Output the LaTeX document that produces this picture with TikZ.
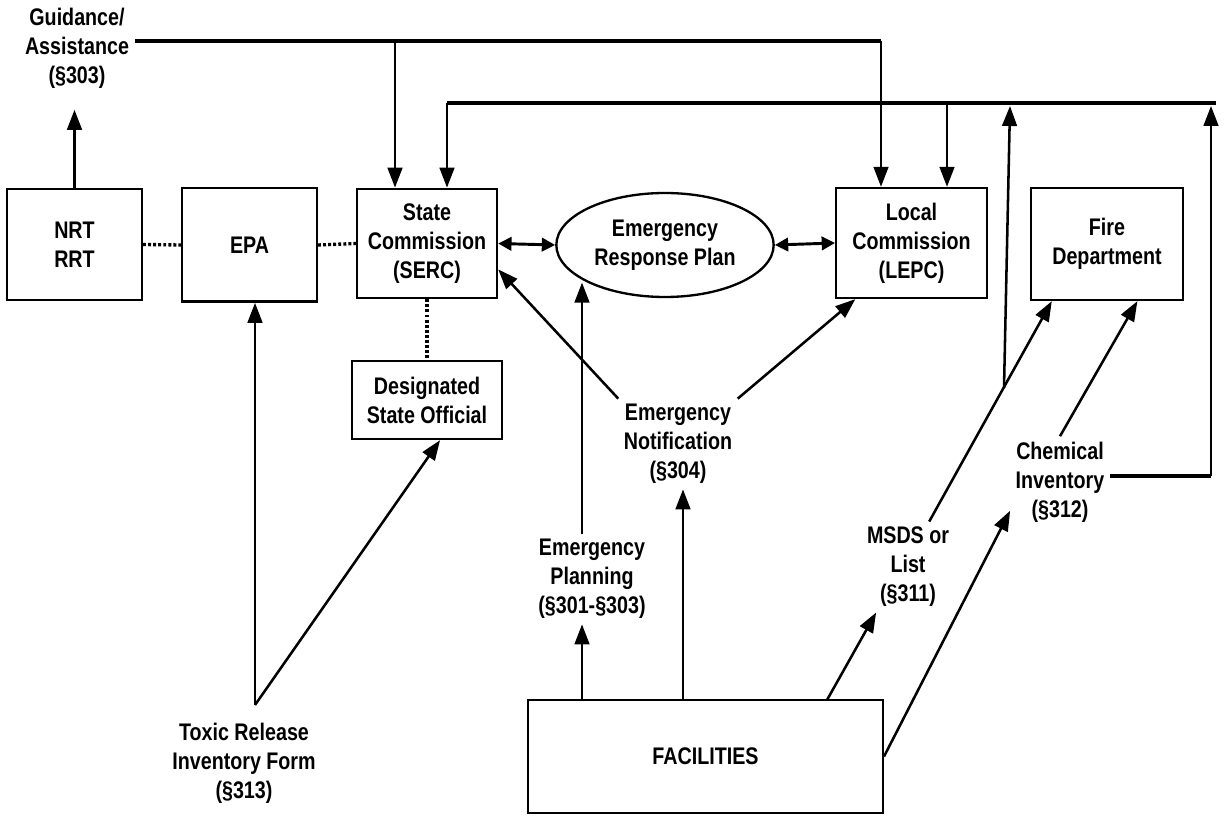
\documentclass[tikz,border=0pt]{standalone}
\usepackage{fontspec}
\setmainfont{Liberation Sans}[FakeStretch=0.82]
\usetikzlibrary{arrows.meta}
\usetikzlibrary{shapes}

\newcommand{\lblfont}{\fontsize{18pt}{21.75pt}\selectfont\bfseries}
\tikzset{
  box/.style={draw, line width=1.75pt, inner sep=0pt, align=center, font=\lblfont},
  lbl/.style={align=center, font=\lblfont, inner sep=4pt},
  arr/.style={line width=1.9pt, -{Triangle[length=15pt,width=11pt]}},
  dbl/.style={line width=2.2pt, {Triangle[length=10pt,width=10pt]}-{Triangle[length=10pt,width=10pt]}},
  dots/.style={line width=2.5pt, dash pattern=on 2.2pt off 1.6pt},
  bus/.style={line width=3pt}
}

\begin{document}
\begin{tikzpicture}[x=0.75pt,y=0.75pt,yscale=-1,xscale=1]
\useasboundingbox (0,0) rectangle (1225,816);

%boxes
\node[box, minimum width=101pt, minimum height=83pt] (nrt) at (74.5,244.5) {NRT\\RRT};
\node[box, minimum width=101pt, minimum height=85pt] (epa) at (249.5,245) {EPA};
\node[box, minimum width=105pt, minimum height=82pt] (serc) at (427,243.5) {State\\Commission\\(SERC)};
\node[box, minimum width=112.5pt, minimum height=58.5pt] (dso) at (427,400) {Designated\\State Official};
\node[box, ellipse, minimum width=163pt, minimum height=78pt] (erp) at (665,245) {Emergency\\Response Plan};
\node[box, minimum width=113pt, minimum height=82.5pt] (lepc) at (911.5,243) {Local\\Commission\\(LEPC)};
\node[box, minimum width=114pt, minimum height=84pt] (fire) at (1107,244) {Fire\\Department};
\node[box, minimum width=266pt, minimum height=85pt] (fac) at (705.5,756.5) {FACILITIES};

%labels
\node[lbl] (guid) at (77,48) {Guidance/\\Assistance\\(§303)};
\node[lbl] (tri) at (244,763) {Toxic Release\\Inventory Form\\(§313)};
\node[lbl] (plan) at (592,579) {Emergency\\Planning\\(§301-§303)};
\node[lbl] (notif) at (678,444) {Emergency\\Notification\\(§304)};
\node[lbl] (msds) at (908,567) {MSDS or\\List\\(§311)};
\node[lbl] (chem) at (1060,482) {Chemical\\Inventory\\(§312)};

%points on the lines
\coordinate (ga) at (395,41);
\coordinate (gb) at (881,41);
\coordinate (ha) at (447,103);
\coordinate (hb) at (947,103);
\coordinate (hc) at (1216,103);
\coordinate (hd) at (1010,106);
\coordinate (he) at (1211,106);
\coordinate (m1) at (1004,388);
\coordinate (c1) at (1211,476);
\coordinate (f1) at (582,700);
\coordinate (f2) at (683,700);
\coordinate (f3) at (827,700);
\coordinate (t0) at (255,705);

%guidance bus
\draw[bus] (guid.east |- ga) -- (gb);
\draw[arr] (ga) -- (ga |- serc.north);
\draw[arr] (gb) -- (gb |- lepc.north);
\draw[arr, shorten >=12pt] (nrt.north) -- (nrt.north |- guid.south);

%second bus
\draw[bus] (ha) -- (hc);
\draw[arr] (ha) -- (ha |- serc.north);
\draw[arr] (hb) -- (hb |- lepc.north);
\draw[arr] (m1) -- (hd);
\draw[bus] (chem.east |- c1) -- (c1);
\draw[arr] (c1) -- (he);

%dotted links
\draw[dots] (nrt.east) -- (epa.west);
\draw[dots] (epa.east) -- (serc.west);
\draw[dots] (serc.south) -- (dso.north);

%plan links
\draw[dbl] (serc.east) -- (erp.west);
\draw[dbl] (erp.east) -- (lepc.west);

%notification
\draw[arr] (notif.north west) -- (serc.-20);
\draw[arr] (notif.north east) -- (lepc.-135);

%from facilities
\draw[arr] (f1) -- (f1 |- plan.south);
\draw[arr] (f1 |- plan.north) -- (f1 |- erp.south west);
\draw[arr] (f2) -- (f2 |- notif.south);
\draw[arr] (f3) -- (msds.-125);
\draw[arr] (msds.65) -- (fire.-134);
\draw[arr] (fac.east) -- (chem.-150);
\draw[arr] (chem.north) -- (fire.-62);

%toxic release
\draw[arr] (t0) -- (t0 |- epa.south);
\draw[arr] (t0) -- (dso.-72);

\end{tikzpicture}
\end{document}
